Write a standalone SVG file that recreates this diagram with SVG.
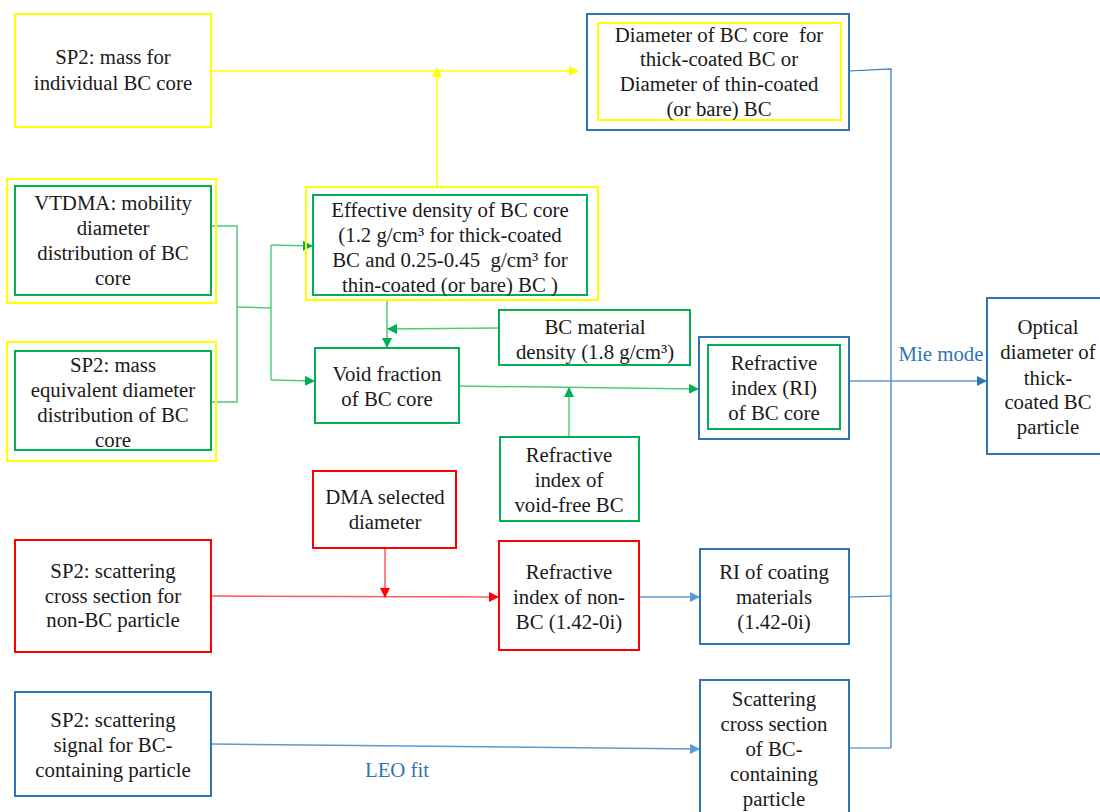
<svg xmlns="http://www.w3.org/2000/svg" width="1100" height="812" viewBox="0 0 1100 812" font-family="'Liberation Serif', 'Times New Roman', Tinos, 'DejaVu Serif', 'Noto Serif', serif">
<defs>
<style>
text{font-family:'Liberation Serif','Times New Roman',Tinos,'DejaVu Serif','Noto Serif',serif;font-size:20.8px;fill:#1a1a1a;text-anchor:middle}
.pre{white-space:pre}
.lbl{fill:#2E75B6}
rect{fill:none;stroke-width:2}
.y{stroke:#FFFF00}
.g{stroke:#00B050}
.r{stroke:#FF0000}
.b{stroke:#2E75B6}
.cy{stroke:#FFFF00;stroke-width:1.5;fill:none}
.cg{stroke:#4FCB7E;stroke-width:1.5;fill:none}
.cr{stroke:#FF5A5A;stroke-width:1.5;fill:none}
.cb{stroke:#5B9BD5;stroke-width:1.5;fill:none}
.cbd{stroke:#2E75B6;stroke-width:1.2;fill:none}
</style>
<marker id="ay" markerWidth="10" markerHeight="10" refX="9" refY="5" orient="auto" markerUnits="userSpaceOnUse"><path d="M0,0 L10,5 L0,10 z" fill="#FFFF00"/></marker>
<marker id="ag" markerWidth="10" markerHeight="10" refX="9" refY="5" orient="auto" markerUnits="userSpaceOnUse"><path d="M0,0 L10,5 L0,10 z" fill="#00B050"/></marker>
<marker id="ar" markerWidth="10" markerHeight="10" refX="9" refY="5" orient="auto" markerUnits="userSpaceOnUse"><path d="M0,0 L10,5 L0,10 z" fill="#FF0000"/></marker>
<marker id="ab" markerWidth="10" markerHeight="10" refX="9" refY="5" orient="auto" markerUnits="userSpaceOnUse"><path d="M0,0 L10,5 L0,10 z" fill="#5B9BD5"/></marker>
<marker id="abd" markerWidth="10" markerHeight="10" refX="9" refY="5" orient="auto" markerUnits="userSpaceOnUse"><path d="M0,0 L10,5 L0,10 z" fill="#2E75B6"/></marker>
</defs>
<rect x="0" y="0" width="1100" height="812" style="fill:#fff;stroke:none"/>

<g id="connectors">
<path class="cy" d="M211,71 L578,71" marker-end="url(#ay)"/>
<path class="cy" d="M437,187 L437,68" marker-end="url(#ay)"/>
<path class="cg" d="M211,226 L237,226 L237,402 L211,402"/>
<path class="cg" d="M237,307 L271,308"/>
<path class="cg" d="M271,245 L271,380"/>
<path class="cg" d="M271,245 L312,246" marker-end="url(#ag)"/>
<path class="cg" d="M271,380 L314,381" marker-end="url(#ag)"/>
<path class="cg" d="M387,300 L387,347" marker-end="url(#ag)"/>
<path class="cg" d="M499,328 L388,329" marker-end="url(#ag)"/>
<path class="cg" d="M459,386 L698,389" marker-end="url(#ag)"/>
<path class="cg" d="M569,437 L569,388" marker-end="url(#ag)"/>
<path class="cr" d="M211,596 L498,597" marker-end="url(#ar)"/>
<path class="cr" d="M385,548 L385,597" marker-end="url(#ar)"/>
<path class="cb" d="M639,597 L699,597" marker-end="url(#ab)"/>
<path class="cb" d="M211,744 L699,749" marker-end="url(#ab)"/>
<path class="cbd" d="M849,71 L891,69 L891,748"/>
<path class="cbd" d="M849,597 L891,596"/>
<path class="cbd" d="M849,748 L891,748"/>
<path class="cb" d="M849,381 L986,381" marker-end="url(#abd)"/>
<text class="lbl" x="941" y="361">Mie mode</text>
<text class="lbl" x="397" y="777">LEO fit</text>
</g>

<g id="sp2-mass">
<rect class="y" x="15" y="14" width="196" height="113"/>
<text x="113" y="64">SP2: mass for</text>
<text x="113" y="90">individual BC core</text>
</g>

<g id="diameter">
<rect class="b" x="587" y="14" width="262" height="116"/>
<rect class="y" x="598" y="23" width="243" height="97"/>
<text class="pre" x="719" y="42">Diameter of BC core  for</text>
<text x="719" y="66">thick-coated BC or</text>
<text x="719" y="91">Diameter of thin-coated</text>
<text x="719" y="116">(or bare) BC</text>
</g>

<g id="vtdma">
<rect class="y" x="7" y="179" width="209" height="124"/>
<rect class="g" x="15" y="186" width="196" height="109"/>
<text x="113" y="210">VTDMA: mobility</text>
<text x="113" y="235">diameter</text>
<text x="113" y="260">distribution of BC</text>
<text x="113" y="285">core</text>
</g>

<g id="sp2-med">
<rect class="y" x="7" y="342" width="209" height="119"/>
<rect class="g" x="15" y="351" width="196" height="99"/>
<text x="113" y="372">SP2: mass</text>
<text x="113" y="397">equivalent diameter</text>
<text x="113" y="422">distribution of BC</text>
<text x="113" y="447">core</text>
</g>

<g id="effective-density">
<rect class="y" x="306" y="187" width="292" height="113"/>
<rect class="g" x="313" y="195" width="274" height="100"/>
<text x="450" y="217">Effective density of BC core</text>
<text x="450" y="242">(1.2 g/cm³ for thick-coated</text>
<text class="pre" x="450" y="267">BC and 0.25-0.45  g/cm³ for</text>
<text x="450" y="292">thin-coated (or bare) BC )</text>
</g>

<g id="bc-material-density">
<rect class="g" x="499" y="310" width="191" height="55"/>
<text x="595" y="334">BC material</text>
<text x="595" y="359">density (1.8 g/cm³)</text>
</g>

<g id="void-fraction">
<rect class="g" x="315" y="348" width="144" height="75"/>
<text x="387" y="381">Void fraction</text>
<text x="387" y="406">of BC core</text>
</g>

<g id="ri-bc-core">
<rect class="b" x="699" y="337" width="150" height="102"/>
<rect class="g" x="708" y="345" width="132" height="84"/>
<text x="774" y="370">Refractive</text>
<text x="774" y="395">index (RI)</text>
<text x="774" y="420">of BC core</text>
</g>

<g id="optical-diameter">
<rect class="b" x="987" y="298" width="120" height="156"/>
<text x="1048" y="334">Optical</text>
<text x="1048" y="359">diameter of</text>
<text x="1048" y="385">thick-</text>
<text x="1048" y="409">coated BC</text>
<text x="1048" y="434">particle</text>
</g>

<g id="ri-void-free">
<rect class="g" x="500" y="437" width="139" height="84"/>
<text x="569" y="462">Refractive</text>
<text x="569" y="487">index of</text>
<text x="569" y="512">void-free BC</text>
</g>

<g id="dma">
<rect class="r" x="313" y="471" width="143" height="77"/>
<text x="385" y="504">DMA selected</text>
<text x="385" y="529">diameter</text>
</g>

<g id="sp2-scat-nonbc">
<rect class="r" x="15" y="540" width="196" height="112"/>
<text x="113" y="578">SP2: scattering</text>
<text x="113" y="603">cross section for</text>
<text x="113" y="627">non-BC particle</text>
</g>

<g id="ri-nonbc">
<rect class="r" x="499" y="541" width="140" height="109"/>
<text x="569" y="579">Refractive</text>
<text x="569" y="604">index of non-</text>
<text x="569" y="629">BC (1.42-0i)</text>
</g>

<g id="ri-coating">
<rect class="b" x="700" y="549" width="149" height="95"/>
<text x="774" y="579">RI of coating</text>
<text x="774" y="604">materials</text>
<text x="774" y="629">(1.42-0i)</text>
</g>

<g id="sp2-scat-bc">
<rect class="b" x="15" y="692" width="196" height="104"/>
<text x="113" y="727">SP2: scattering</text>
<text x="113" y="752">signal for BC-</text>
<text x="113" y="777">containing particle</text>
</g>

<g id="scat-cross-bc">
<rect class="b" x="700" y="680" width="149" height="134"/>
<text x="774" y="706">Scattering</text>
<text x="774" y="731">cross section</text>
<text x="774" y="756">of BC-</text>
<text x="774" y="781">containing</text>
<text x="774" y="806">particle</text>
</g>
</svg>
